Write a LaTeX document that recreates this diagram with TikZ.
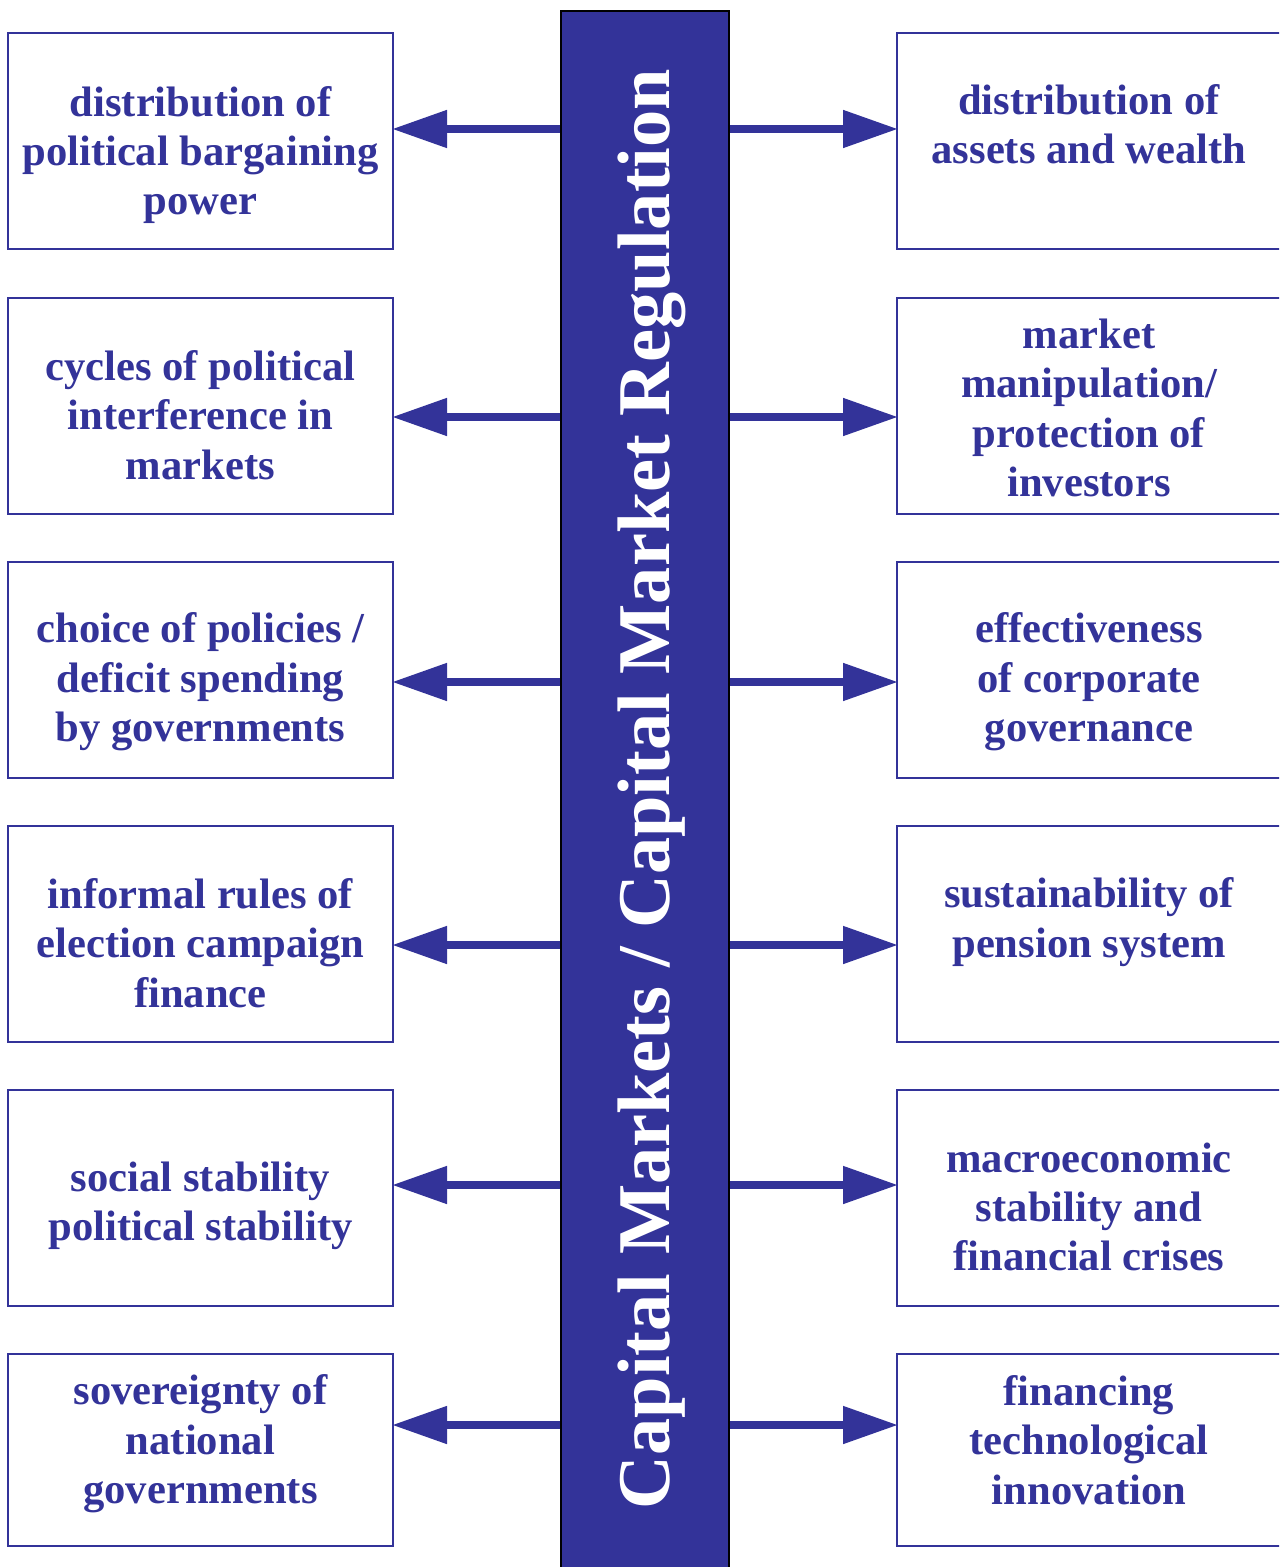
\documentclass[tikz,border=0pt]{standalone}
\usepackage{fontspec}
\setmainfont{Liberation Serif}
\usetikzlibrary{arrows.meta}
\definecolor{navy}{RGB}{51,51,153}
\tikzset{
  box/.style={draw=navy, line width=1pt, rectangle, inner sep=0pt},
  lbl/.style={text=navy, font=\bfseries\fontsize{21.3}{24.7}\selectfont, align=center, inner sep=0pt},
  link/.style={draw=navy, line width=4pt, -{Triangle[length=27.5pt,width=18pt]}, shorten >=-1pt}
}
\begin{document}
\begin{tikzpicture}[x=0.5pt,y=-0.5pt]
\useasboundingbox (0,0) rectangle (1279,1567);
\clip (0,0) rectangle (1279,1567);

% central bar
\node[draw=black, line width=1pt, fill=navy, minimum width=84pt, minimum height=790pt, inner sep=0pt, anchor=north] (bar) at (645,10) {};
\node[rotate=90, text=white, font=\bfseries\fontsize{37.2}{40}\selectfont, inner sep=0pt] (title) at (652,789) {Capital Markets / Capital Market Regulation};

% boxes on both sides
\foreach \n/\y/\h in {1/141.5/108pt, 2/406/108pt, 3/670/108pt, 4/934/108pt, 5/1198/108pt, 6/1450/96pt}{
  \node[box, minimum width=192.5pt, minimum height=\h] (L\n) at (200.5,\y) {};
  \node[box, minimum width=192pt, minimum height=\h] (R\n) at (1089,\y) {};
}

% labels
\node[lbl] at (200.5,155) {distribution of\\political bargaining\\power};
\node[lbl] at (200.5,415) {cycles of political\\interference in\\markets};
\node[lbl] at (200.5,682) {choice of policies /\\deficit spending\\by governments};
\node[lbl] at (200.5,943) {informal rules of\\election campaign\\finance};
\node[lbl] at (200.5,1206) {social stability\\political stability};
\node[lbl] at (200.5,1444) {sovereignty of\\national\\governments};

\node[lbl] at (1089,124) {distribution of\\assets and wealth};
\node[lbl] at (1089,408) {market\\manipulation/\\protection of\\investors};
\node[lbl] at (1089,682) {effectiveness\\of corporate\\governance};
\node[lbl] at (1089,922) {sustainability of\\pension system};
\node[lbl] at (1089,1207) {macroeconomic\\stability and\\financial crises};
\node[lbl] at (1089,1440) {financing\\technological\\innovation};

% connectors
\foreach \n/\y in {1/129, 2/417, 3/682, 4/945, 5/1185, 6/1425}{
  \draw[link] (bar.west |- 0,\y) -- (L\n.east |- 0,\y);
  \draw[link] (bar.east |- 0,\y) -- (R\n.west |- 0,\y);
}
\end{tikzpicture}
\end{document}
